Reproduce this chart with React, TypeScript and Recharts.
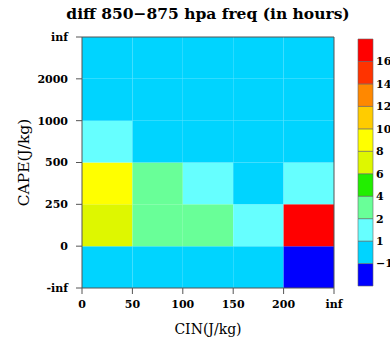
import { ScatterChart, Scatter, XAxis, YAxis, ReferenceArea } from 'recharts';

const FONT = '"DejaVu Serif", serif';

// bin edges
const cinLabels = ['0', '50', '100', '150', '200', 'inf'];
const capeLabels = ['-inf', '0', '250', '500', '1000', '2000', 'inf'];

// diff in hours, one array per CAPE bin (bottom to top), one value per CIN bin
const capeNegInf = [0, 0, 0, 0, -2];
const cape0 = [7, 3, 3, 1.5, 17];
const cape250 = [9, 3, 1.5, 0, 1.5];
const cape500 = [1.5, 0, 0, 0, 0];
const cape1000 = [0, 0, 0, 0, 0];
const cape2000 = [0, 0, 0, 0, 0];
const rows = [capeNegInf, cape0, cape250, cape500, cape1000, cape2000];

// colour bar
const levels = [-1, 1, 2, 4, 6, 8, 10, 12, 14, 16];
const levelColors = ['#0000FF', '#00D4FF', '#66FFFF', '#69FF98', '#22EE00', '#DEF700', '#FFFF00', '#FFCC00', '#FF8800', '#FF3300', '#FF0000'];

const colorFor = (v: number) => levelColors[levels.filter(l => v >= l).length];

const cells = rows.flatMap((row, j) => row.map((v, i) => ({ x: i + 0.5, y: j + 0.5, i, j, v })));

const tickStyle = { fill: '#000', fontSize: 11, fontWeight: 700, fontFamily: FONT };
const axisColor = '#555';

export default function App() {
    return (
        <div style={{ position: 'absolute', left: 0, top: 0, width: 390, height: 340, overflow: 'hidden', background: '#fff', fontFamily: FONT }}>
            <div style={{ position: 'absolute', left: 208, top: 4, transform: 'translateX(-50%)', whiteSpace: 'nowrap', fontSize: 15.5, fontWeight: 700 }}>
                diff 850−875 hpa freq (in hours)
            </div>

            {/* main grid */}
            <div style={{ position: 'absolute', left: 0, top: 0 }}>
                <ScatterChart width={345} height={340} margin={{ top: 30, right: 4, bottom: 0, left: 0 }}>
                    <XAxis type="number" dataKey="x" domain={[0, 5]} ticks={[0, 1, 2, 3, 4, 5]} tickFormatter={(t: number) => cinLabels[t]}
                        height={52} tickSize={6} tickMargin={6} tick={tickStyle} stroke={axisColor} interval={0}
                        label={{ value: 'CIN(J/kg)', position: 'insideBottom', offset: 6, fill: '#000', fontSize: 14, fontFamily: FONT }} />
                    <XAxis xAxisId="top" orientation="top" type="number" domain={[0, 5]} ticks={[0, 1, 2, 3, 4, 5]} height={7} tickSize={6} tick={false} stroke={axisColor} />
                    <YAxis type="number" dataKey="y" domain={[0, 6]} ticks={[0, 1, 2, 3, 4, 5, 6]} tickFormatter={(t: number) => capeLabels[t]}
                        width={82} tickSize={6} tickMargin={8} tick={tickStyle} stroke={axisColor} interval={0}
                        label={{ value: 'CAPE(J/kg)', angle: -90, position: 'center', dx: -18, fill: '#000', fontSize: 15.5, fontFamily: FONT }} />
                    <YAxis yAxisId="right" orientation="right" type="number" domain={[0, 6]} ticks={[0, 1, 2, 3, 4, 5, 6]} width={7} tickSize={6} tick={false} stroke={axisColor} />
                    {cells.map(c => (
                        <ReferenceArea key={`${c.i}-${c.j}`} x1={c.i} x2={c.i + 1} y1={c.j} y2={c.j + 1}
                            fill={colorFor(c.v)} fillOpacity={1} stroke="none" />
                    ))}
                    <Scatter data={cells} shape={() => <g />} isAnimationActive={false} />
                </ScatterChart>
            </div>

            {/* colour bar */}
            <div style={{ position: 'absolute', left: 350, top: 0 }}>
                <ScatterChart width={70} height={340} margin={{ top: 39, right: 0, bottom: 54, left: 8 }}>
                    <XAxis type="number" dataKey="x" domain={[0, 1]} hide />
                    <YAxis type="number" dataKey="y" orientation="right" domain={[0, 11]} ticks={[1, 2, 3, 4, 5, 6, 7, 8, 9, 10]}
                        tickFormatter={(t: number) => String(levels[t - 1]).replace('-', '−')} width={47} axisLine={false} tickLine={false}
                        tickSize={0} tickMargin={3} tick={tickStyle} interval={0} />
                    {levelColors.map((c, k) => (
                        <ReferenceArea key={k} x1={0} x2={1} y1={k} y2={k + 1} fill={c} fillOpacity={1} stroke="#666" strokeWidth={0.6} />
                    ))}
                    <Scatter data={[{ x: 0.5, y: 0.5 }]} shape={() => <g />} isAnimationActive={false} />
                </ScatterChart>
            </div>
        </div>
    );
}
